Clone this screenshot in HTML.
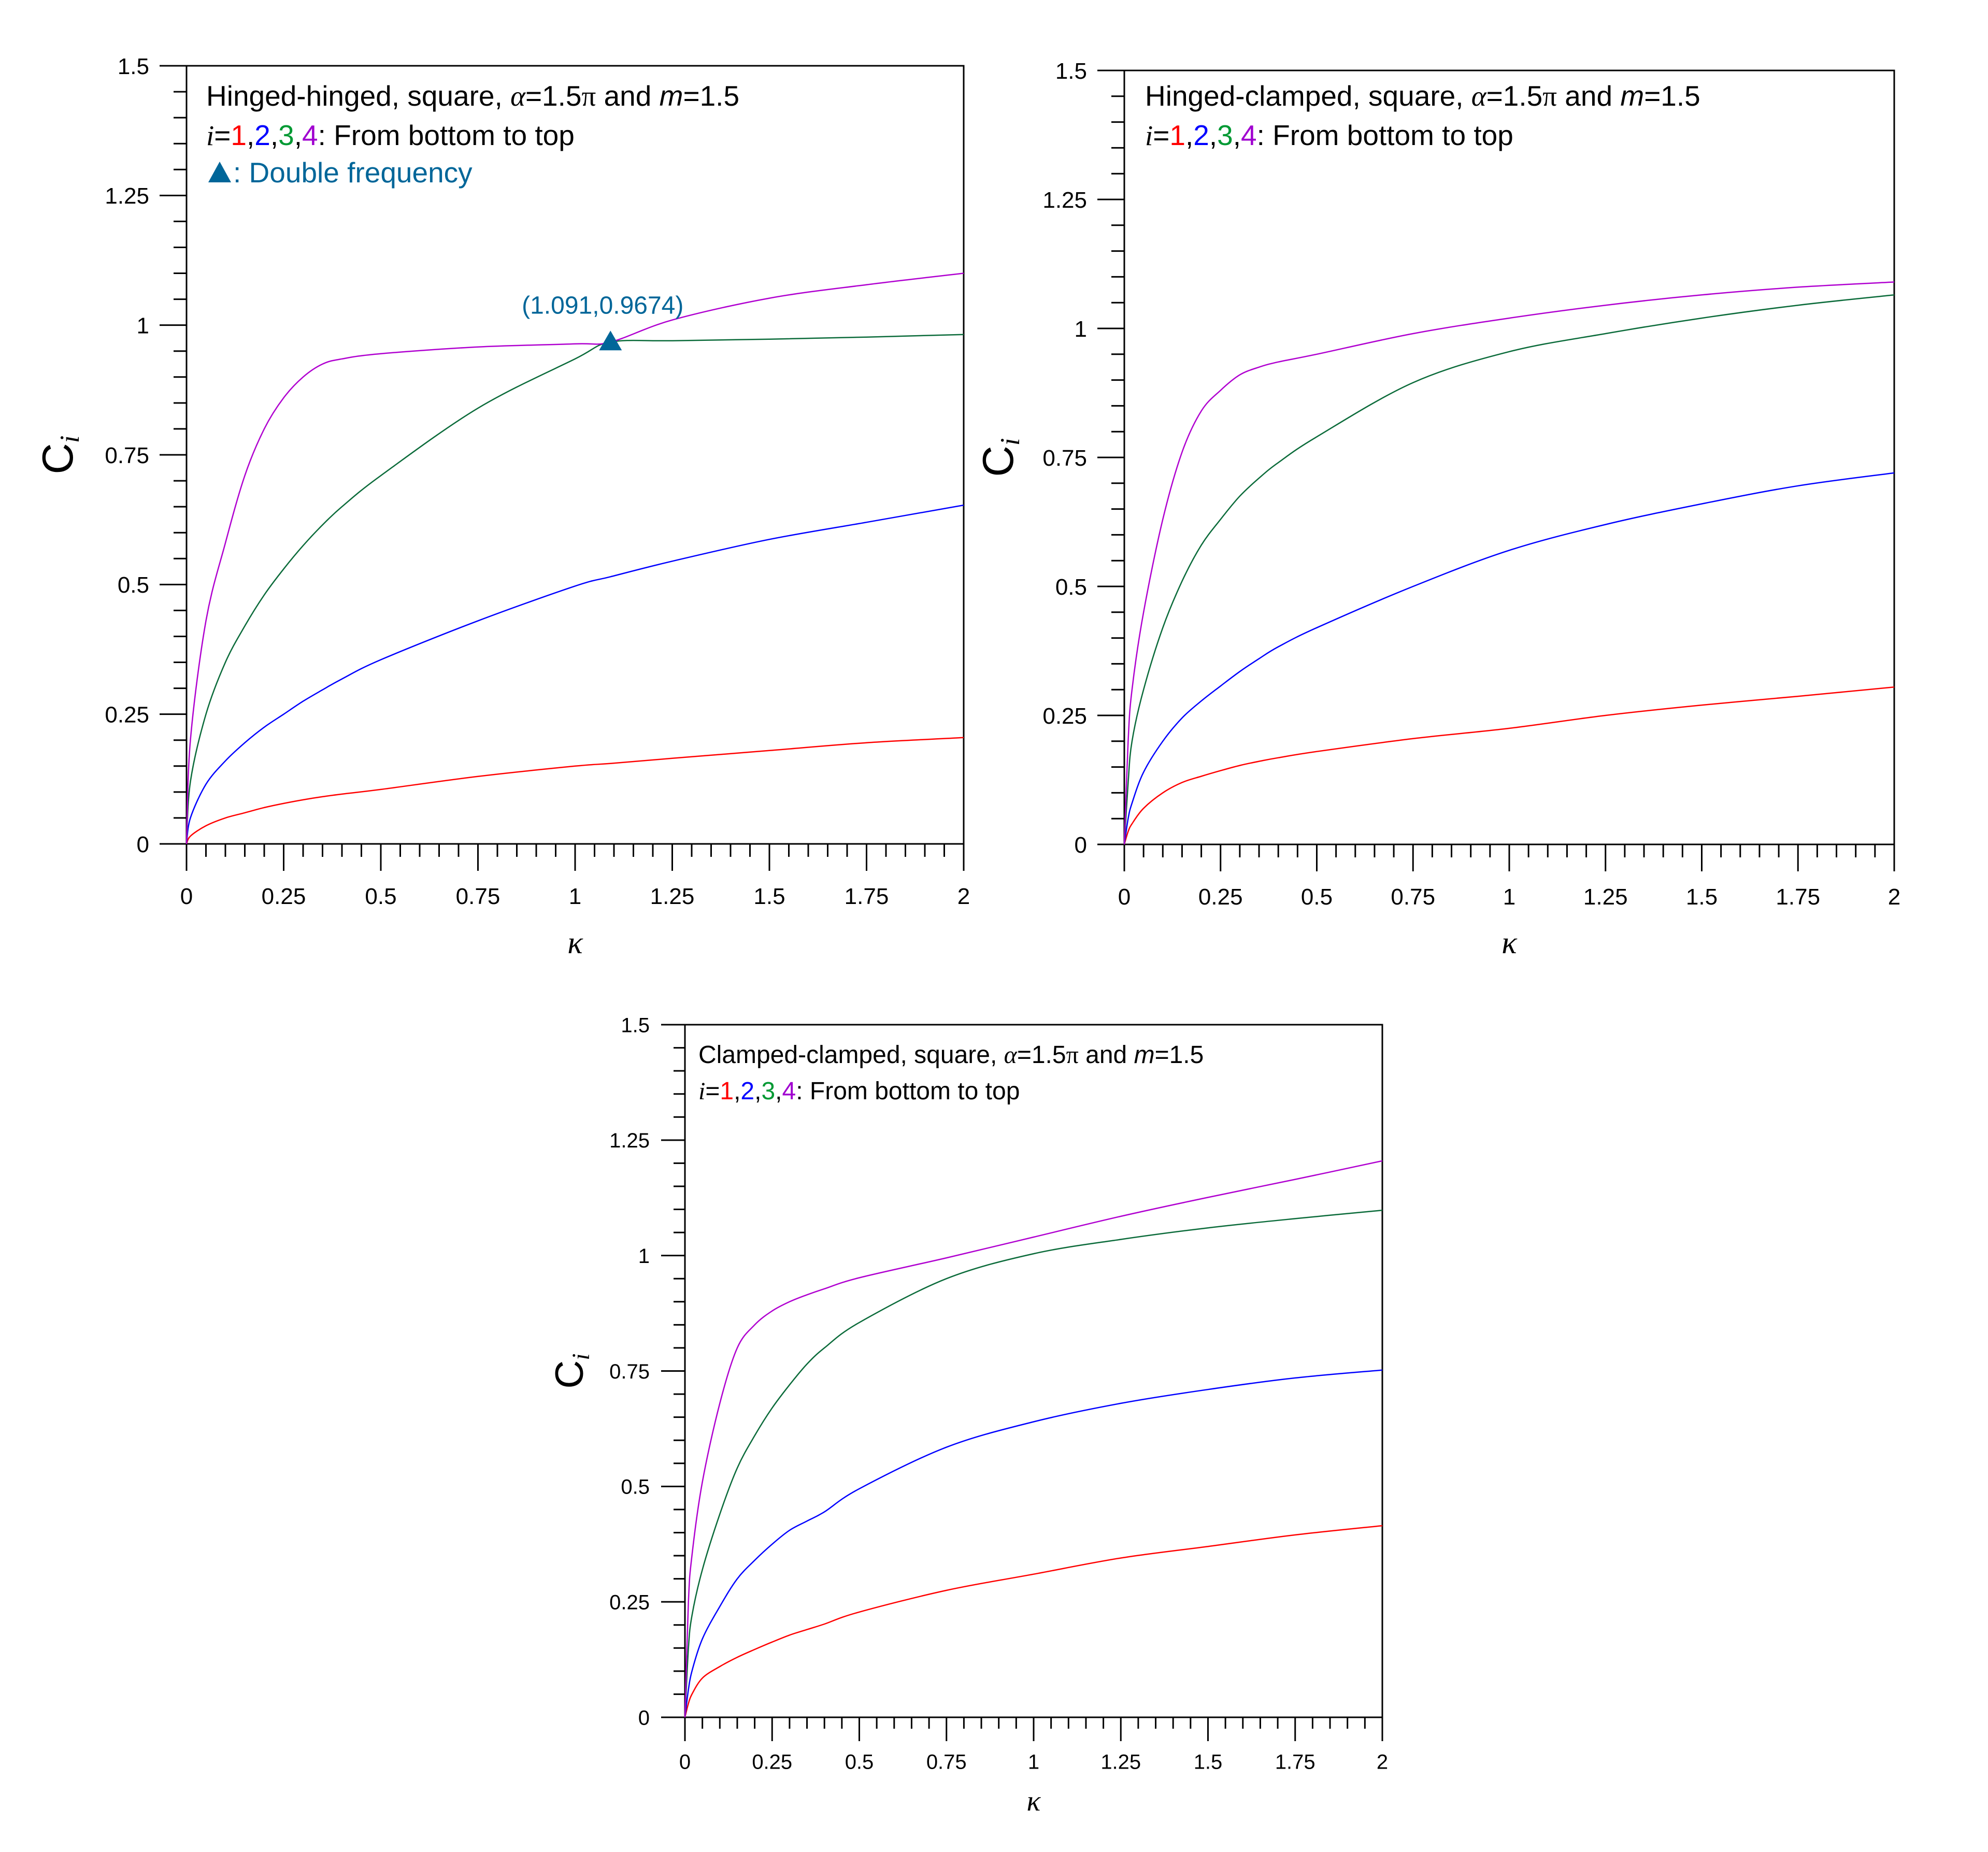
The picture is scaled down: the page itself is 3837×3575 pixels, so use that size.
<!DOCTYPE html>
<html><head><meta charset="utf-8"><style>
html,body{margin:0;padding:0;background:#fff;}
svg{display:block;font-family:"Liberation Sans",Arial,sans-serif;}
</style></head><body>
<svg id="fig" width="3837" height="3575" viewBox="0 0 3837 3575" xmlns="http://www.w3.org/2000/svg"></svg>
<script>
// ---- data ----
const kappaA = [0,0.01,0.05,0.1,0.15,0.2,0.25,0.3,0.35,0.4,0.5,0.75,1,1.091,1.25,1.5,1.75,2];
const hhC1 = [0,0.015,0.035,0.05,0.06,0.07,0.078,0.085,0.091,0.096,0.105,0.13,0.15,0.155,0.165,0.18,0.195,0.205];
const hhC2 = [0,0.05,0.115,0.16,0.195,0.225,0.25,0.275,0.297,0.318,0.355,0.43,0.497,0.515,0.545,0.587,0.62,0.653];
const hhC3 = [0,0.12,0.25,0.35,0.42,0.48,0.53,0.575,0.615,0.65,0.71,0.84,0.935,0.9674,0.97,0.973,0.977,0.982];
const hhC4 = [0,0.2,0.43,0.58,0.71,0.8,0.86,0.9,0.925,0.935,0.945,0.958,0.964,0.9674,1.01,1.052,1.078,1.10];
const kappaB = [0,0.01,0.02,0.05,0.1,0.15,0.2,0.25,0.3,0.35,0.4,0.5,0.75,1,1.25,1.5,1.75,2];
const hcC1 = [0,0.025,0.04,0.07,0.1,0.12,0.132,0.143,0.153,0.161,0.168,0.18,0.205,0.225,0.25,0.27,0.287,0.305];
const hcC2 = [0,0.05,0.08,0.14,0.2,0.245,0.278,0.307,0.335,0.36,0.383,0.42,0.5,0.57,0.62,0.66,0.695,0.72];
const hcC3 = [0,0.12,0.2,0.3,0.42,0.51,0.58,0.63,0.675,0.71,0.74,0.79,0.895,0.955,0.99,1.02,1.045,1.065];
const hcC4 = [0,0.2,0.3,0.45,0.63,0.76,0.84,0.88,0.91,0.925,0.935,0.95,0.99,1.02,1.045,1.065,1.08,1.09];
const ccC1 = [0,0.03,0.05,0.085,0.11,0.13,0.147,0.163,0.178,0.19,0.202,0.228,0.275,0.31,0.345,0.37,0.395,0.415];
const ccC2 = [0,0.06,0.1,0.17,0.24,0.3,0.34,0.375,0.405,0.425,0.445,0.495,0.585,0.64,0.68,0.71,0.735,0.752];
const ccC3 = [0,0.15,0.22,0.32,0.44,0.54,0.61,0.67,0.72,0.765,0.8,0.855,0.95,1.004,1.035,1.06,1.08,1.098];
const ccC4 = [0,0.25,0.35,0.51,0.68,0.8,0.85,0.88,0.9,0.915,0.928,0.952,0.995,1.04,1.085,1.126,1.165,1.205];
const xTickLabels = ["0","0.25","0.5","0.75","1","1.25","1.5","1.75","2"];
const yTickLabels = ["0","0.25","0.5","0.75","1","1.25","1.5"];
const doublePoint = [1.091, 0.9674];

const NS="http://www.w3.org/2000/svg";
const svg=document.getElementById('fig');
function mk(tag,attrs,parent){const e=document.createElementNS(NS,tag);for(const k in attrs)e.setAttribute(k,attrs[k]);(parent||svg).appendChild(e);return e;}
const COLORS=["#ff0000","#0000ff","#0b6b3a","#b000d0"];

function smoothPath(pts){
  let d="M"+pts[0][0].toFixed(1)+","+pts[0][1].toFixed(1);
  for(let i=0;i<pts.length-1;i++){
    const p0=pts[Math.max(0,i-1)],p1=pts[i],p2=pts[i+1],p3=pts[Math.min(pts.length-1,i+2)];
    const c1=[p1[0]+(p2[0]-p0[0])/6,p1[1]+(p2[1]-p0[1])/6];
    const c2=[p2[0]-(p3[0]-p1[0])/6,p2[1]-(p3[1]-p1[1])/6];
    d+=" C"+c1[0].toFixed(1)+","+c1[1].toFixed(1)+" "+c2[0].toFixed(1)+","+c2[1].toFixed(1)+" "+p2[0].toFixed(1)+","+p2[1].toFixed(1);
  }
  return d;
}

function panel(cfg){
  const g=mk('g',{});
  
  
  const {L,R,T,B,fs}=cfg;
  const sx=v=>L+(v/2)*(R-L);
  const sy=v=>B-(v/1.5)*(B-T);
  const fr=mk('rect',{x:L,y:T,width:R-L,height:B-T,fill:"none",stroke:"#000","stroke-width":3},g);
  
  
  const maj=cfg.maj, mn=cfg.mn;
  for(let i=0;i<=30;i++){
    const v=i*0.05, y=sy(v), major=(i%5===0);
    const t=mk('line',{x1:L-(major?maj:mn),x2:L,y1:y,y2:y,stroke:"#000","stroke-width":3},g);
    
    
  }
  yTickLabels.forEach((s,i)=>{
    const tx=mk('text',{x:L-cfg.ylOff,y:sy(i*0.25)+fs*0.36,"font-size":fs,"text-anchor":"end"},g);
    tx.textContent=s;
    
    
  });
  for(let i=0;i<=40;i++){
    const v=i*0.05, x=sx(v), major=(i%5===0);
    const t=mk('line',{x1:x,x2:x,y1:B,y2:B+(major?maj:mn),stroke:"#000","stroke-width":3},g);
    
    
  }
  xTickLabels.forEach((s,i)=>{
    const tx=mk('text',{x:sx(i*0.25),y:B+cfg.xlOff+fs*0.36,"font-size":fs,"text-anchor":"middle"},g);
    tx.textContent=s;
    
    
  });
  cfg.series.forEach((ys,k)=>{
    const pts=cfg.xs.map((x,i)=>[sx(x),sy(ys[i])]);
    const p=mk('path',{d:smoothPath(pts),fill:"none",stroke:COLORS[k],"stroke-width":2.5},g);
    
    
  });
  const xl=mk('text',{x:(L+R)/2,y:cfg.kY,"font-size":fs*1.4,"font-style":"italic","text-anchor":"middle","font-family":"Liberation Serif,serif"},g);
  xl.textContent="κ";
  
  
  const yl=mk('text',{transform:`translate(${cfg.cX},${(T+B)/2}) rotate(-90)`,"font-size":fs*1.9,"text-anchor":"middle"},g);
  yl.innerHTML='C<tspan font-size="'+(fs*1.2)+'" font-style="italic" font-family="Liberation Serif,serif" dy="12">i</tspan>';
  
  
  const tf=cfg.tfs, tx0=cfg.tx;
  const t1=mk('text',{x:tx0,y:cfg.ty[0],"font-size":tf},g);
  t1.innerHTML=cfg.title+', square, <tspan font-family="Liberation Serif,serif" font-style="italic">α</tspan>=1.5<tspan font-family="Liberation Serif,serif">π</tspan> and <tspan font-style="italic">m</tspan>=1.5';
  
  
  const t2=mk('text',{x:tx0,y:cfg.ty[1],"font-size":tf},g);
  t2.innerHTML='<tspan font-family="Liberation Serif,serif" font-style="italic">i</tspan>=<tspan fill="#ff0000">1</tspan>,<tspan fill="#0000ff">2</tspan>,<tspan fill="#009933">3</tspan>,<tspan fill="#a000d0">4</tspan>: From bottom to top';
  
  
  return {g,sx,sy};
}

const p1=panel({name:'panel-hinged-hinged',L:360,R:1860,T:127,B:1629,fs:44,maj:52,mn:25,ylOff:72,xlOff:100,kY:1840,cX:140,tfs:55,tx:398,ty:[204,280],title:'Hinged-hinged',xs:kappaA,series:[hhC1,hhC2,hhC3,hhC4]});
const p2=panel({name:'panel-hinged-clamped',L:2170,R:3656,T:136,B:1630,fs:44,maj:52,mn:25,ylOff:72,xlOff:100,kY:1840,cX:1955,tfs:55,tx:2210,ty:[204,280],title:'Hinged-clamped',xs:kappaB,series:[hcC1,hcC2,hcC3,hcC4]});
const p3=panel({name:'panel-clamped-clamped',L:1322,R:2668,T:1978,B:3315,fs:40,maj:46,mn:22,ylOff:68,xlOff:85,kY:3495,cX:1125,tfs:48,tx:1348,ty:[2052,2122],title:'Clamped-clamped',xs:kappaB,series:[ccC1,ccC2,ccC3,ccC4]});

const mx=p1.sx(doublePoint[0]), my=p1.sy(doublePoint[1]);
const tri=mk('polygon',{points:`${mx},${my-22} ${mx-22},${my+16} ${mx+22},${my+16}`,fill:"#006699"},p1.g);


const lab=mk('text',{x:mx-15,y:my-55,"font-size":48,fill:"#006699","text-anchor":"middle"},p1.g);
lab.textContent="("+doublePoint[0]+","+doublePoint[1]+")";


const legTri=mk('polygon',{points:"424,312 402,352 446,352",fill:"#006699"},p1.g);


const legT=mk('text',{x:450,y:352,"font-size":55,fill:"#006699"},p1.g);
legT.textContent=": Double frequency";


</script>
</body></html>
